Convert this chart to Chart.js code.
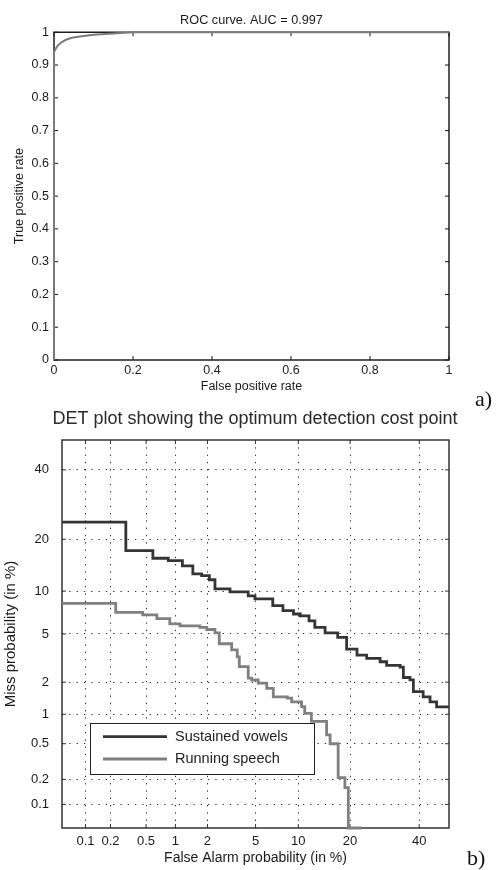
<!DOCTYPE html>
<html><head><meta charset="utf-8">
<script src="https://cdn.jsdelivr.net/npm/chart.js@4/dist/chart.umd.min.js"></script>
<style>
html,body{margin:0;padding:0;background:#fff;}
#wrap{position:relative;width:496px;height:870px;overflow:hidden;background:#fff;}
canvas{position:absolute;left:0;}
#c1{top:0;width:496px;height:400px;}
#c2{top:400px;width:496px;height:470px;}
.lab{position:absolute;font-family:"Liberation Serif","Times New Roman",serif;font-size:22px;line-height:22px;color:#111;}
</style></head><body>
<div id="wrap">
<canvas id="c1" width="496" height="400"></canvas>
<canvas id="c2" width="496" height="470"></canvas>
<div class="lab" style="left:475px;top:388px">a)</div>
<div class="lab" style="left:467px;top:847px">b)</div>
</div>
<script>
// ---------- ROC curve (panel a) ----------
const rocTitle = 'ROC curve. AUC = 0.997';
const rocXLabel = 'False positive rate';
const rocYLabel = 'True positive rate';
const rocFPR = [0, 0, 0.005, 0.01, 0.02, 0.03, 0.045, 0.07, 0.1, 0.15, 0.2, 1];
const rocTPR = [0, 0.94, 0.951, 0.96, 0.97, 0.977, 0.983, 0.988, 0.992, 0.996, 1, 1];
const rocXTicks = [0, 0.2, 0.4, 0.6, 0.8, 1];
const rocXTickLabels = ['0', '0.2', '0.4', '0.6', '0.8', '1'];
const rocYTicks = [0, 0.1, 0.2, 0.3, 0.4, 0.5, 0.6, 0.7, 0.8, 0.9, 1];
const rocYTickLabels = ['0', '0.1', '0.2', '0.3', '0.4', '0.5', '0.6', '0.7', '0.8', '0.9', '1'];

// ---------- DET plot (panel b), values in % ----------
const detTitle = 'DET plot showing the optimum detection cost point';
const detXLabel = 'False Alarm probability (in %)';
const detYLabel = 'Miss probability (in %)';
const detTickValues = [0.1, 0.2, 0.5, 1, 2, 5, 10, 20, 40];
const detTickLabels = ['0.1', '0.2', '0.5', '1', '2', '5', '10', '20', '40'];
const seriesNames = ['Sustained vowels', 'Running speech'];
const vowelsFA = [0.05, 0.30, 0.59, 0.85, 1.17, 1.47, 1.77, 2.08, 2.33, 3.13, 4.39, 4.95, 6.7, 7.9, 9.3, 10.3, 11.7, 12.7, 14.6, 17.2, 19.2, 21.7, 24.2, 27.9, 29.8, 33.9, 34.9, 37.0, 38.1, 41.3, 43.6, 45.8, 50];
const vowelsMiss = [24.3, 17.4, 15.8, 15.3, 14.3, 12.8, 12.5, 11.8, 10.35, 9.9, 9.3, 8.9, 8.0, 7.4, 7.0, 6.8, 6.25, 5.6, 5.1, 4.7, 3.8, 3.4, 3.2, 3.0, 2.8, 2.7, 2.2, 2.1, 1.64, 1.47, 1.32, 1.18, 1.18];
const speechFA = [0.05, 0.23, 0.46, 0.65, 0.88, 1.11, 1.71, 1.97, 2.33, 2.54, 3.23, 3.59, 3.73, 4.39, 4.67, 5.24, 6.06, 6.76, 8.46, 9.05, 10.5, 11.0, 12.1, 14.9, 15.6, 17.3, 18.8, 19.6, 22.9];
const speechMiss = [8.3, 7.2, 6.9, 6.5, 5.95, 5.75, 5.6, 5.4, 5.1, 4.2, 3.75, 3.3, 2.73, 2.17, 2.09, 1.96, 1.76, 1.47, 1.43, 1.32, 1.19, 1.02, 0.85, 0.62, 0.50, 0.21, 0.16, 0.05, 0.05];

// ---------- helpers ----------
function probit(p) {
  const a = [-3.969683028665376e+01, 2.209460984245205e+02, -2.759285104469687e+02, 1.383577518672690e+02, -3.066479806614716e+01, 2.506628277459239e+00];
  const b = [-5.447609879822406e+01, 1.615858368580409e+02, -1.556989798598866e+02, 6.680131188771972e+01, -1.328068155288572e+01];
  const c = [-7.784894002430293e-03, -3.223964580411365e-01, -2.400758277161838e+00, -2.549732539343734e+00, 4.374664141464968e+00, 2.938163982698783e+00];
  const d = [7.784695709041462e-03, 3.224671290700398e-01, 2.445134137142996e+00, 3.754408661907416e+00];
  const pl = 0.02425;
  p = Math.min(Math.max(p, 1e-9), 1 - 1e-9);
  let q, r;
  if (p < pl) {
    q = Math.sqrt(-2 * Math.log(p));
    return (((((c[0]*q+c[1])*q+c[2])*q+c[3])*q+c[4])*q+c[5]) / ((((d[0]*q+d[1])*q+d[2])*q+d[3])*q+1);
  }
  if (p <= 1 - pl) {
    q = p - 0.5; r = q*q;
    return (((((a[0]*r+a[1])*r+a[2])*r+a[3])*r+a[4])*r+a[5])*q / (((((b[0]*r+b[1])*r+b[2])*r+b[3])*r+b[4])*r+1);
  }
  q = Math.sqrt(-2 * Math.log(1 - p));
  return -(((((c[0]*q+c[1])*q+c[2])*q+c[3])*q+c[4])*q+c[5]) / ((((d[0]*q+d[1])*q+d[2])*q+d[3])*q+1);
}
function normCdf(z) {
  const t = 1 / (1 + 0.2316419 * Math.abs(z));
  const dd = 0.3989423 * Math.exp(-z * z / 2);
  const pr = dd * t * (0.3193815 + t * (-0.3565638 + t * (1.781478 + t * (-1.821256 + t * 1.330274))));
  return z > 0 ? 1 - pr : pr;
}

class ProbitScale extends Chart.Scale {
  static id = 'probit';
  static defaults = {};
  determineDataLimits() { this.min = this.options.min; this.max = this.options.max; }
  buildTicks() { return []; }
  getLabelForValue(v) { return String(v); }
  configure() {
    super.configure();
    this._pStart = probit(this.min / 100);
    this._pRange = probit(this.max / 100) - this._pStart;
  }
  getPixelForValue(v) {
    return this.getPixelForDecimal((probit(v / 100) - this._pStart) / this._pRange);
  }
  getValueForPixel(px) {
    return 100 * normCdf(this._pStart + this.getDecimalForPixel(px) * this._pRange);
  }
}
Chart.register(ProbitScale);

const FONT = '"Liberation Sans", Arial, Helvetica, sans-serif';
Chart.defaults.font.family = FONT;

const framePlugin = {
  id: 'frame',
  beforeDatasetsDraw(chart, args, opts) {
    const {ctx, chartArea: a, scales} = chart;
    ctx.save();
    ctx.strokeStyle = opts.color;
    ctx.lineWidth = opts.tickWidth;
    ctx.beginPath();
    const L = opts.tick;
    scales.x.ticks.forEach(t => {
      const px = scales.x.getPixelForValue(t.value);
      ctx.moveTo(px, a.bottom); ctx.lineTo(px, a.bottom - L);
      ctx.moveTo(px, a.top); ctx.lineTo(px, a.top + L);
    });
    scales.y.ticks.forEach(t => {
      const py = scales.y.getPixelForValue(t.value);
      ctx.moveTo(a.left, py); ctx.lineTo(a.left + L, py);
      ctx.moveTo(a.right, py); ctx.lineTo(a.right - L, py);
    });
    ctx.stroke();
    ctx.lineWidth = opts.width;
    ctx.strokeRect(a.left, a.top, a.right - a.left, a.bottom - a.top);
    ctx.restore();
  }
};

const legendBox = {
  id: 'legendBox',
  afterDatasetsDraw(chart, args, opts) {
    const {ctx, chartArea: a} = chart;
    const x0 = a.left + opts.dx, y0 = a.top + opts.dy;
    ctx.save();
    ctx.fillStyle = '#fff';
    ctx.fillRect(x0, y0, opts.w, opts.h);
    ctx.strokeStyle = '#222';
    ctx.lineWidth = 1;
    ctx.strokeRect(x0 + 0.5, y0 + 0.5, opts.w, opts.h);
    chart.data.datasets.forEach((ds, i) => {
      const cy = y0 + opts.row0 + i * opts.rowGap;
      ctx.strokeStyle = ds.borderColor;
      ctx.lineWidth = ds.borderWidth;
      ctx.beginPath();
      ctx.moveTo(x0 + 13, cy); ctx.lineTo(x0 + 77, cy);
      ctx.stroke();
      ctx.fillStyle = '#222';
      ctx.font = opts.font;
      ctx.textBaseline = 'middle';
      ctx.textAlign = 'left';
      ctx.fillText(ds.label, x0 + 85, cy);
    });
    ctx.restore();
  }
};

// ---------- Chart a ----------
const tickFontA = {family: FONT, size: 12.5};
new Chart(document.getElementById('c1'), {
  type: 'line',
  data: {
    datasets: [{
      label: 'ROC',
      data: rocFPR.map((x, i) => ({x: x, y: rocTPR[i]})),
      borderColor: '#7b7b7b', borderWidth: 2, pointRadius: 0, tension: 0, fill: false, clip: 4
    }]
  },
  options: {
    responsive: false, animation: false, events: [],
    layout: {padding: {left: 0, right: 47, top: 0, bottom: 0}},
    plugins: {
      legend: {display: false}, tooltip: {enabled: false},
      title: {display: true, fullSize: false, text: rocTitle, color: '#1a1a1a', font: {family: FONT, size: 12.7, weight: 'normal'}, padding: {top: 13, bottom: 4}},
      frame: {color: '#111', width: 1.4, tickWidth: 1, tick: 4}
    },
    scales: {
      x: {
        type: 'linear', min: 0, max: 1,
        afterBuildTicks: s => { s.ticks = rocXTicks.map(v => ({value: v})); },
        ticks: {callback: (v, i) => rocXTickLabels[i], padding: 3.5, maxRotation: 0, autoSkip: false, font: tickFontA, color: '#1a1a1a'},
        grid: {display: false, drawTicks: false},
        border: {display: false},
        title: {display: true, text: rocXLabel, color: '#1a1a1a', font: {family: FONT, size: 12.5}, padding: {top: 0, bottom: 5.5}},
        afterFit: s => { s.height = 40; }
      },
      y: {
        type: 'linear', min: 0, max: 1,
        afterBuildTicks: s => { s.ticks = rocYTicks.map(v => ({value: v})); },
        ticks: {callback: (v, i) => rocYTickLabels[i], padding: 5, autoSkip: false, font: tickFontA, color: '#1a1a1a'},
        grid: {display: false, drawTicks: false},
        border: {display: false},
        title: {display: true, text: rocYLabel, color: '#1a1a1a', font: {family: FONT, size: 12.5}, padding: {top: 12.5, bottom: 0}},
        afterFit: s => { s.width = 54; }
      }
    }
  },
  plugins: [framePlugin]
});

// ---------- Chart b ----------
const tickFontB = {family: FONT, size: 13};
new Chart(document.getElementById('c2'), {
  type: 'line',
  data: {
    datasets: [
      {label: seriesNames[0], data: vowelsFA.map((x, i) => ({x: x, y: vowelsMiss[i]})), xAxisID: 'x', yAxisID: 'y',
       borderColor: '#353535', borderWidth: 2.8, pointRadius: 0, stepped: 'before', fill: false, clip: 3},
      {label: seriesNames[1], data: speechFA.map((x, i) => ({x: x, y: speechMiss[i]})), xAxisID: 'x', yAxisID: 'y',
       borderColor: '#808080', borderWidth: 2.8, pointRadius: 0, stepped: 'before', fill: false, clip: 3}
    ]
  },
  options: {
    responsive: false, animation: false, events: [],
    layout: {padding: {left: 14, right: 0, top: 0, bottom: 0}},
    plugins: {
      legend: {display: false}, tooltip: {enabled: false},
      title: {display: true, text: detTitle, color: '#2a2a2a', font: {family: FONT, size: 18, weight: 'normal'}, padding: {top: 8.2, bottom: 10.2}},
      frame: {color: '#333', width: 1.5, tickWidth: 1, tick: 4},
      legendBox: {dx: 28, dy: 283, w: 224, h: 51, row0: 13.7, rowGap: 22.3, font: '14.5px ' + FONT}
    },
    scales: {
      x: {
        type: 'probit', position: 'bottom', min: 0.05, max: 50,
        afterBuildTicks: s => { s.ticks = detTickValues.map(v => ({value: v})); },
        ticks: {callback: (v, i) => detTickLabels[i], padding: 5.5, maxRotation: 0, autoSkip: false, font: tickFontB, color: '#1a1a1a'},
        grid: {display: true, drawTicks: false, color: '#2a2a2a', lineWidth: 1},
        border: {display: false, dash: [1.3, 6]},
        title: {display: true, text: detXLabel, color: '#1a1a1a', font: {family: FONT, size: 14}, padding: {top: 0, bottom: 3.6}},
        afterFit: s => { s.height = 42; }
      },
      y: {
        type: 'probit', position: 'left', min: 0.05, max: 50,
        afterBuildTicks: s => { s.ticks = detTickValues.map(v => ({value: v})); },
        ticks: {callback: (v, i) => detTickLabels[i], padding: 13, autoSkip: false, font: tickFontB, color: '#1a1a1a'},
        grid: {display: true, drawTicks: false, color: '#2a2a2a', lineWidth: 1},
        border: {display: false, dash: [1.3, 6]},
        title: {display: true, text: detYLabel, color: '#1a1a1a', font: {family: FONT, size: 15}, padding: {top: -12.5, bottom: 0}},
        afterFit: s => { s.width = 48; }
      },
      yRight: {
        type: 'linear', position: 'right', display: true, min: 0, max: 1,
        ticks: {display: false}, grid: {display: false, drawTicks: false}, border: {display: false},
        afterFit: s => { s.width = 47; }
      }
    }
  },
  plugins: [framePlugin, legendBox]
});
</script>
</body></html>
